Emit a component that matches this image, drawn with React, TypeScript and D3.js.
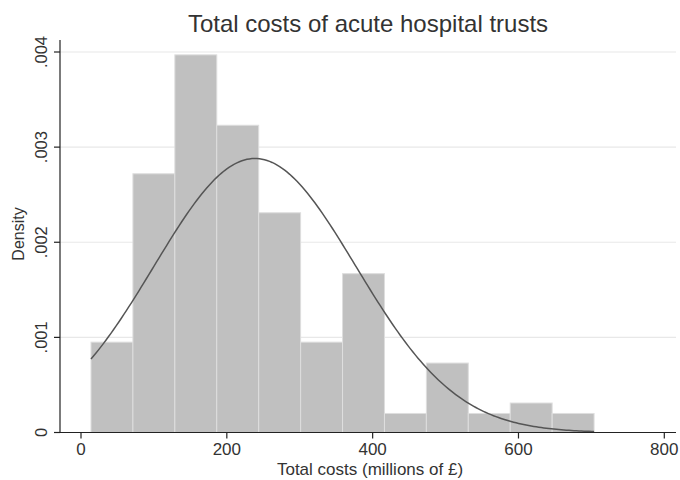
import React from "react";
import * as d3 from "d3";

const binStart = 13.7;
const binWidth = 57.5;
const densities = [0.00095, 0.00272, 0.00397, 0.00323, 0.00231, 0.00095, 0.00167, 0.0002, 0.00073, 0.0002, 0.00031, 0.0002];
const xTicks = [0, 200, 400, 600, 800];
const yTicks = [0, 0.001, 0.002, 0.003, 0.004];
const yTickLabels = ["0", ".001", ".002", ".003", ".004"];
const normalMean = 238.5;
const normalSd = 138.5;

const W = 680, H = 480;
const left = 60, right = 676, top = 40, bottom = 432.5;

export default function App() {
  const x = d3.scaleLinear().domain([0, 800]).range([81, 664.3]);
  const y = d3.scaleLinear().domain([0, 0.004]).range([bottom, 52]);
  const bins = densities.map((d, i) => ({ x0: binStart + i * binWidth, x1: binStart + (i + 1) * binWidth, d }));
  const xmin = binStart, xmax = binStart + densities.length * binWidth;
  const pts = d3.range(0, 201).map(i => {
    const v = xmin + (xmax - xmin) * i / 200;
    const dens = Math.exp(-0.5 * ((v - normalMean) / normalSd) ** 2) / (normalSd * Math.sqrt(2 * Math.PI));
    return [v, dens] as [number, number];
  });
  const line = d3.line<[number, number]>().x(p => x(p[0])).y(p => y(p[1]));
  const font = "Liberation Sans, Arial, sans-serif";
  return (
    <svg width={W} height={H} style={{ position: "absolute", left: 0, top: 0, background: "#fff" }} fontFamily={font}>
      <rect width={W} height={H} fill="#fff" />
      {yTicks.slice(1).map(t => (
        <line key={t} x1={left} x2={right} y1={y(t)} y2={y(t)} stroke="#e8e8e8" strokeWidth={1.2} />
      ))}
      {bins.map((b, i) => (
        <rect key={i} x={x(b.x0)} y={y(b.d)} width={x(b.x1) - x(b.x0)} height={bottom - y(b.d)}
          fill="#c0c0c0" stroke="#dedede" strokeWidth={1} />
      ))}
      <path d={line(pts) || ""} fill="none" stroke="#555" strokeWidth={1.5} />
      <line x1={left} x2={left} y1={top} y2={bottom} stroke="#222" strokeWidth={1.2} />
      <line x1={left} x2={right} y1={bottom} y2={bottom} stroke="#222" strokeWidth={1.2} />
      {yTicks.map((t, i) => (
        <g key={t}>
          <line x1={left - 6} x2={left} y1={y(t)} y2={y(t)} stroke="#222" strokeWidth={1.2} />
          <text transform={`translate(${left - 13},${y(t)}) rotate(-90)`} textAnchor="middle" fontSize={16.5} fill="#333">{yTickLabels[i]}</text>
        </g>
      ))}
      {xTicks.map(t => (
        <g key={t}>
          <line x1={x(t)} x2={x(t)} y1={bottom} y2={bottom + 6} stroke="#222" strokeWidth={1.2} />
          <text x={x(t)} y={bottom + 22} textAnchor="middle" fontSize={17} fill="#333">{t}</text>
        </g>
      ))}
      <text transform={`translate(24,234) rotate(-90)`} textAnchor="middle" fontSize={16} fill="#333">Density</text>
      <text x={370} y={475} textAnchor="middle" fontSize={17} fill="#333">Total costs (millions of £)</text>
      <text x={368} y={32} textAnchor="middle" fontSize={24} fill="#333">Total costs of acute hospital trusts</text>
    </svg>
  );
}
